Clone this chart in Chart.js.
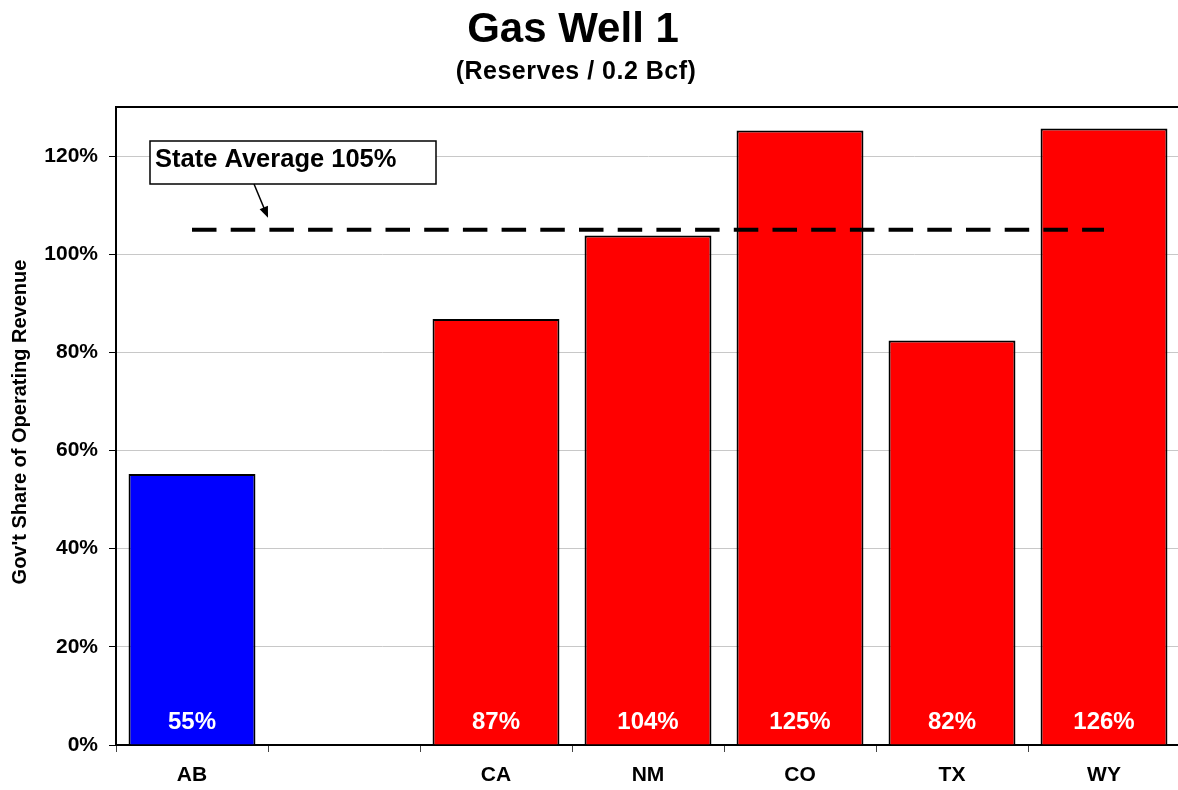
<!DOCTYPE html>
<html>
<head>
<meta charset="utf-8">
<script src="https://cdn.jsdelivr.net/npm/chart.js@4/dist/chart.umd.min.js"></script>
<style>
  html, body { margin: 0; padding: 0; background: #fff; overflow: hidden; }
  #wrap { position: relative; width: 1182px; height: 790px; }
</style>
</head>
<body>
<div id="wrap"><canvas id="chart" width="1182" height="790"></canvas></div>
<script>
// Government share of operating revenue, by jurisdiction (percent)
const categories = ['AB', '', 'CA', 'NM', 'CO', 'TX', 'WY'];
const govShare   = [55.2, null, 86.8, 103.8, 125.2, 82.4, 125.6];
const barColors  = ['#0000FF', '#FFFFFF', '#FF0000', '#FF0000', '#FF0000', '#FF0000', '#FF0000'];
const stateAverage = 105;
const yTickValues  = [0, 20, 40, 60, 80, 100, 120];
const yMax = 130;

const chartTitle    = 'Gas Well 1';
const chartSubtitle = '(Reserves / 0.2 Bcf)';
const yAxisTitle    = "Gov't Share of Operating Revenue";
const averageNote   = 'State Average ' + stateAverage + '%';

const FONT = "'Liberation Sans', Arial, Helvetica, sans-serif";

const decorations = {
  id: 'decorations',
  afterDatasetsDraw(chart) {
    const { ctx, chartArea, scales } = chart;
    const y0 = scales.y.getPixelForValue(0);

    // value labels near the base of each bar
    const meta = chart.getDatasetMeta(1);
    ctx.save();
    ctx.fillStyle = '#FFFFFF';
    ctx.font = 'bold 24px ' + FONT;
    ctx.textAlign = 'center';
    ctx.textBaseline = 'middle';
    meta.data.forEach((bar, i) => {
      const v = govShare[i];
      if (v === null || v === undefined) return;
      ctx.fillText(Math.round(v) + '%', bar.x, y0 - 23);
    });
    ctx.restore();

    // frame line along the top of the plot area
    ctx.save();
    ctx.strokeStyle = '#000';
    ctx.lineWidth = 2;
    ctx.beginPath();
    ctx.moveTo(chartArea.left - 1, chartArea.top);
    ctx.lineTo(chartArea.right + 2, chartArea.top);
    ctx.stroke();
    ctx.restore();

    // callout box pointing at the average line
    const avgY = scales.y.getPixelForValue(stateAverage);
    const bx = 150, by = 141, bw = 286, bh = 43;
    ctx.save();
    ctx.fillStyle = '#FFFFFF';
    ctx.fillRect(bx, by, bw, bh);
    ctx.strokeStyle = '#000';
    ctx.lineWidth = 1.5;
    ctx.strokeRect(bx, by, bw, bh);
    ctx.fillStyle = '#000';
    ctx.font = 'bold 25.5px ' + FONT;
    ctx.textAlign = 'left';
    ctx.textBaseline = 'middle';
    ctx.fillText(averageNote, bx + 5, by + 19);

    // arrow
    const x1 = 254, y1 = by + bh, x2 = 268, y2 = avgY - 12;
    const ang = Math.atan2(y2 - y1, x2 - x1);
    ctx.lineWidth = 1.5;
    ctx.beginPath();
    ctx.moveTo(x1, y1);
    ctx.lineTo(x2 - 8 * Math.cos(ang), y2 - 8 * Math.sin(ang));
    ctx.stroke();
    ctx.beginPath();
    ctx.moveTo(x2, y2);
    ctx.lineTo(x2 - 11 * Math.cos(ang) + 4.5 * Math.sin(ang), y2 - 11 * Math.sin(ang) - 4.5 * Math.cos(ang));
    ctx.lineTo(x2 - 11 * Math.cos(ang) - 4.5 * Math.sin(ang), y2 - 11 * Math.sin(ang) + 4.5 * Math.cos(ang));
    ctx.closePath();
    ctx.fill();
    ctx.restore();
  },
  afterDraw(chart) {
    const { ctx } = chart;
    ctx.save();
    ctx.fillStyle = '#000';
    ctx.textAlign = 'center';
    ctx.textBaseline = 'alphabetic';
    ctx.font = 'bold 42px ' + FONT;
    ctx.fillText(chartTitle, 573, 42);
    ctx.font = 'bold 25px ' + FONT;
    if ('letterSpacing' in ctx) ctx.letterSpacing = '0.5px';
    ctx.fillText(chartSubtitle, 576, 79);
    if ('letterSpacing' in ctx) ctx.letterSpacing = '0px';

    // vertical axis title
    ctx.translate(20, 422);
    ctx.rotate(-Math.PI / 2);
    ctx.textBaseline = 'middle';
    ctx.font = 'bold 20px ' + FONT;
    ctx.fillText(yAxisTitle, 0, 0);
    ctx.restore();
  }
};

new Chart(document.getElementById('chart'), {
  data: {
    labels: categories,
    datasets: [
      {
        type: 'line',
        label: 'State Average',
        data: categories.map(() => stateAverage),
        borderColor: '#000',
        borderWidth: 4,
        borderDash: [24.5, 14.2],
        pointRadius: 0,
        fill: false,
        order: 0
      },
      {
        type: 'bar',
        label: 'Gov\'t Share',
        data: govShare,
        backgroundColor: barColors,
        borderColor: '#000',
        borderWidth: 2,
        barPercentage: 0.835,
        categoryPercentage: 1.0,
        order: 1
      }
    ]
  },
  options: {
    responsive: false,
    devicePixelRatio: 1,
    animation: false,
    layout: { padding: { top: 107, right: 2, left: 0, bottom: 0 } },
    plugins: {
      legend: { display: false },
      tooltip: { enabled: false },
      title: { display: false }
    },
    scales: {
      x: {
        offset: true,
        grid: {
          display: true,
          drawOnChartArea: false,
          drawTicks: true,
          tickLength: 7,
          tickColor: '#444',
          offset: true
        },
        border: { display: true, color: '#000', width: 2 },
        ticks: {
          color: '#000',
          font: { family: FONT, size: 21, weight: 'bold' },
          padding: 11,
          maxRotation: 0,
          autoSkip: false
        },
        afterFit(scale) { scale.height = 45; }
      },
      y: {
        min: 0,
        max: yMax,
        afterBuildTicks(scale) {
          scale.ticks = yTickValues.map(v => ({ value: v }));
        },
        grid: {
          color: '#C8C8C8',
          lineWidth: 1,
          drawTicks: true,
          tickLength: 7,
          tickColor: '#000'
        },
        border: { display: true, color: '#000', width: 2 },
        ticks: {
          color: '#000',
          font: { family: FONT, size: 21, weight: 'bold' },
          padding: 11,
          callback: v => v + '%'
        },
        afterFit(scale) { scale.width = 116; }
      }
    }
  },
  plugins: [decorations]
});
</script>
</body>
</html>
